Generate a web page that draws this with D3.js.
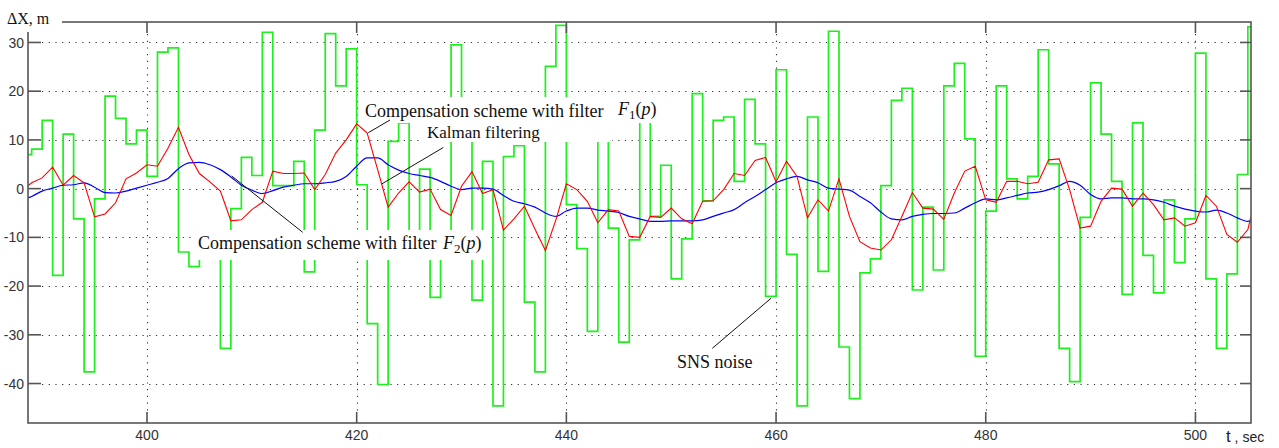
<!DOCTYPE html>
<html><head><meta charset="utf-8">
<script src="https://cdn.jsdelivr.net/npm/d3@7"></script>
<style>body{margin:0;background:#fff;} svg{display:block;}</style>
</head><body><svg id="c" width="1279" height="448"></svg>
<script>
// ---------- data ----------
const xTicks = [400, 420, 440, 460, 480, 500];
const yTicks = [-40, -30, -20, -10, 0, 10, 20, 30];
const xDomain = [388.65, 505.3];
const yDomain = [-48.1, 34.2];

// SNS noise: piecewise-constant, each value holds from its start time for 1 s
const noiseStepTimes = [388,389,390,391,392,393,394,395,396,397,398,399,400,401,402,403,404,405,406,407,408,409,410,411,412,413,414,415,416,417,418,419,420,421,422,423,424,425,426,427,428,429,430,431,432,433,434,435,436,437,438,439,440,441,442,443,444,445,446,447,448,449,450,451,452,453,454,455,456,457,458,459,460,461,462,463,464,465,466,467,468,469,470,471,472,473,474,475,476,477,478,479,480,481,482,483,484,485,486,487,488,489,490,491,492,493,494,495,496,497,498,499,500,501,502,503,504,505];
const noiseValues = [7,8.1,14.0,-17.8,11.2,-6.2,-37.6,-2.1,19.0,14.4,9.2,12.0,2.5,28.0,28.9,-13.0,-16.0,-11.5,-11.5,-32.8,-4.1,6.4,2.7,32.1,0.6,0.6,5.6,-17.1,12.0,31.8,21.1,28.7,0.8,-27.7,-40.2,9.7,13.5,-11,4.0,-22.3,-11,29.5,14,-22.9,5.6,-44.6,6.6,8.8,-23.3,-37.6,25.1,33.5,-3.3,-12.3,-29.3,14,-8.1,-31.5,-10.5,16,-5.7,4.8,-18.5,-10.3,19.5,-2.5,14.0,14.7,1.5,18.3,9.2,-22.1,24.4,-13.5,-44.6,14.7,-17.0,32.3,-32.5,-43.1,-17.3,-14.4,0.6,18.1,20.6,-20.8,-3.8,-16.7,21.1,25.7,10.2,-34.4,-4.6,21.1,2.0,-2.1,2.5,28.5,5.1,-32.8,-39.6,-5.9,21.7,11.2,1.5,-21.7,13.5,-13.7,-21.4,-2.3,-15.2,-6.2,27.8,-18.5,-32.8,-17.5,2.9,33.2];
const noiseEndTime = 505.3;

// sample times of the two filtered curves
const sampleTimes = [388.65,389,390,391,392,393,394,395,396,397,398,399,400,401,402,403,404,405,406,407,408,409,410,411,412,413,414,415,416,417,418,419,420,421,422,423,424,425,426,427,428,429,430,431,432,433,434,435,436,437,438,439,440,441,442,443,444,445,446,447,448,449,450,451,452,453,454,455,456,457,458,459,460,461,462,463,464,465,466,467,468,469,470,471,472,473,474,475,476,477,478,479,480,481,482,483,484,485,486,487,488,489,490,491,492,493,494,495,496,497,498,499,500,501,502,503,504,505,505.3];
// red curve: compensation scheme
const compensationValues = [0.6,1.2,2.2,4.4,0.7,2.7,1.2,-5.8,-5.2,-2.9,2.0,3.2,4.9,4.6,8.3,12.6,7.0,3.1,1.4,-0.5,-6.6,-6.4,-4.3,-2.8,3.6,3.1,3.1,3.2,-0.2,2.9,7.3,10.0,13.3,11.4,3.9,-3.8,-0.9,1.4,-0.7,-0.1,-4.3,-5.5,0.5,3.5,-1.0,-0.2,-8.5,-6.2,-3.6,-8.3,-12.7,-6.4,1.0,-0.2,-2.6,-7.0,-4.3,-4.6,-9.8,-10.0,-5.7,-5.9,-4.0,-6.2,-7.2,-2.6,-2.5,-0.2,3.1,2.7,5.8,6.4,1.4,5.6,2.5,-6.0,-2.3,-4.6,2.0,-5.7,-10.9,-12.2,-12.6,-10.5,-5.7,-0.8,-4.0,-4.2,-6.3,-0.9,3.6,4.6,-2.3,-2.8,1.5,1.5,1.0,1.3,5.9,6.1,-0.2,-8.1,-7.7,-2.6,0.1,-0.1,-3.6,-0.9,-3.3,-6.4,-6.0,-7.7,-7.0,-1.4,-3.6,-9.4,-11.0,-8.4,-5.7];
// blue curve: Kalman filtering
const kalmanValues = [-1.9,-1.6,-0.5,0.1,0.7,0.8,1.2,0.3,-0.8,-0.9,-0.5,0.1,0.7,1.3,2.1,4.1,5.3,5.4,4.9,3.9,2.4,0.7,-0.3,-1.0,-0.4,0.3,0.7,1.0,1.0,1.2,1.5,2.5,4.6,6.3,6.3,4.9,3.8,3.1,2.7,2.3,1.5,0.5,-0.2,0.1,0.1,-0.1,-1.4,-2.6,-3.1,-3.8,-5.0,-5.7,-4.6,-4.0,-4.0,-4.4,-4.6,-4.9,-5.7,-6.2,-6.7,-6.7,-6.6,-6.6,-6.6,-6.4,-5.7,-5.0,-4.3,-2.9,-1.6,-0.2,1.2,2.0,2.5,1.8,1.2,0.1,-0.1,-0.3,-1.6,-2.9,-4.8,-6.2,-6.4,-5.7,-5.3,-5.1,-5.1,-5.0,-4.0,-2.9,-2.1,-2.3,-1.9,-1.4,-0.9,-0.7,-0.2,0.6,1.5,0.7,-1.2,-2.1,-1.9,-1.9,-2.1,-2.1,-2.3,-2.8,-3.6,-4.2,-4.6,-4.8,-4.4,-5.0,-6.0,-6.7,-6.6];

// ---------- layout ----------
const L = 28, R = 1251, T = 22, B = 423;
const svg = d3.select('#c');
const x = d3.scaleLinear(xDomain, [L, R]);
const y = d3.scaleLinear(yDomain, [B, T]);
const serif = '"Liberation Serif","Times New Roman",serif';
const sans = '"Liberation Sans",Arial,sans-serif';

svg.append('defs').append('clipPath').attr('id','clip')
  .append('rect').attr('x',L).attr('y',T).attr('width',R-L).attr('height',B-T);

// grid
const grid = svg.append('g').attr('stroke','#333').attr('stroke-width',1.1).attr('stroke-dasharray','1.2,5.5');
grid.selectAll('.gx').data(xTicks).join('line')
  .attr('x1',d=>Math.round(x(d))+0.5).attr('x2',d=>Math.round(x(d))+0.5).attr('y1',T+12).attr('y2',B-12);
grid.selectAll('.gy').data(yTicks).join('line')
  .attr('y1',d=>Math.round(y(d))+0.5).attr('y2',d=>Math.round(y(d))+0.5).attr('x1',L+14).attr('x2',R-12);

// series
const plot = svg.append('g').attr('clip-path','url(#clip)');
const noisePts = noiseStepTimes.map((t,i)=>[t,noiseValues[i]]);
noisePts.push([noiseEndTime, noiseValues[noiseValues.length-1]]);
plot.append('path').datum(noisePts)
  .attr('fill','none').attr('stroke','#1ef01e').attr('stroke-width',1.7)
  .attr('d', d3.line().x(d=>x(d[0])).y(d=>y(d[1])).curve(d3.curveStepAfter));
plot.append('path').datum(sampleTimes.map((t,i)=>[t,kalmanValues[i]]))
  .attr('fill','none').attr('stroke','#0000ff').attr('stroke-width',1.2)
  .attr('d', d3.line().x(d=>x(d[0])).y(d=>y(d[1])).curve(d3.curveMonotoneX));
plot.append('path').datum(sampleTimes.map((t,i)=>[t,compensationValues[i]]))
  .attr('fill','none').attr('stroke','#ff0000').attr('stroke-width',1.1)
  .attr('d', d3.line().x(d=>x(d[0])).y(d=>y(d[1])));

// axes frame + ticks
const ax = svg.append('g').attr('stroke','#555').attr('stroke-width',1.6);
ax.append('rect').attr('x',L).attr('y',T).attr('width',R-L).attr('height',B-T).attr('fill','none');
ax.selectAll('.tl').data(yTicks).join('line').attr('x1',L).attr('x2',L+13).attr('y1',d=>y(d)).attr('y2',d=>y(d));
ax.selectAll('.tr').data(yTicks).join('line').attr('x1',R-11).attr('x2',R).attr('y1',d=>y(d)).attr('y2',d=>y(d));
ax.selectAll('.tt').data(xTicks).join('line').attr('x1',d=>x(d)).attr('x2',d=>x(d)).attr('y1',T).attr('y2',T+11);
ax.selectAll('.tb').data(xTicks).join('line').attr('x1',d=>x(d)).attr('x2',d=>x(d)).attr('y1',B-11).attr('y2',B);

// tick labels
svg.append('g').selectAll('text').data(yTicks).join('text')
  .attr('x',24).attr('y',d=>y(d)).attr('dy','0.36em').attr('text-anchor','end')
  .attr('font-family',sans).attr('font-size',14).attr('fill','#333').text(d=>d);
svg.append('g').selectAll('text').data(xTicks).join('text')
  .attr('x',d=>x(d)).attr('y',440).attr('text-anchor','middle')
  .attr('font-family',sans).attr('font-size',14).attr('fill','#333').text(d=>d);

// axis titles
svg.append('rect').attr('x',0).attr('y',0).attr('width',62).attr('height',32).attr('fill','#fff');
svg.append('text').attr('x',7).attr('y',24).attr('font-family',serif).attr('font-size',16).attr('fill','#111').text('ΔX, m');
const xt = svg.append('text').attr('x',1226).attr('y',442).attr('font-family',sans).attr('fill','#222');
xt.append('tspan').attr('font-size',17).text('t');
xt.append('tspan').attr('font-size',14).text(' , sec');

// annotations with white background
function bg(x0,y0,x1,y1){ svg.append('rect').attr('x',x0).attr('y',y0).attr('width',x1-x0).attr('height',y1-y0).attr('fill','#fff'); }
function leader(x1,y1,x2,y2){ svg.append('line').attr('x1',x1).attr('y1',y1).attr('x2',x2).attr('y2',y2).attr('stroke','#111').attr('stroke-width',1); }
function label(x0,yb,txt,size){ return svg.append('text').attr('x',x0).attr('y',yb).attr('font-family',serif).attr('font-size',size).attr('fill','#111').text(txt); }
function fsub(x0,yb,sub){
  const t = svg.append('text').attr('x',x0).attr('y',yb).attr('font-family',serif).attr('font-size',18).attr('fill','#111');
  t.append('tspan').attr('font-style','italic').text('F');
  t.append('tspan').attr('font-size',13).attr('dy',4).text(sub);
  t.append('tspan').attr('dy',-4).text('(');
  t.append('tspan').attr('font-style','italic').text('p');
  t.append('tspan').text(')');
}
bg(361,97,662,123);
bg(421,123,612,142);
bg(194,230,489,260);

label(365,116.7,'Compensation scheme with filter',18);
fsub(618,115,'1');
label(427,138.3,'Kalman filtering',17);
label(198,249.3,'Compensation scheme with filter',18);
fsub(443,249.3,'2');
label(677,368.3,'SNS noise',18);

leader(390,120,368.3,132.7);
leader(443.3,147.5,381.7,184);
leader(231.7,176,302.7,232.3);
leader(771,298.3,712.3,348.3);
</script></body></html>
